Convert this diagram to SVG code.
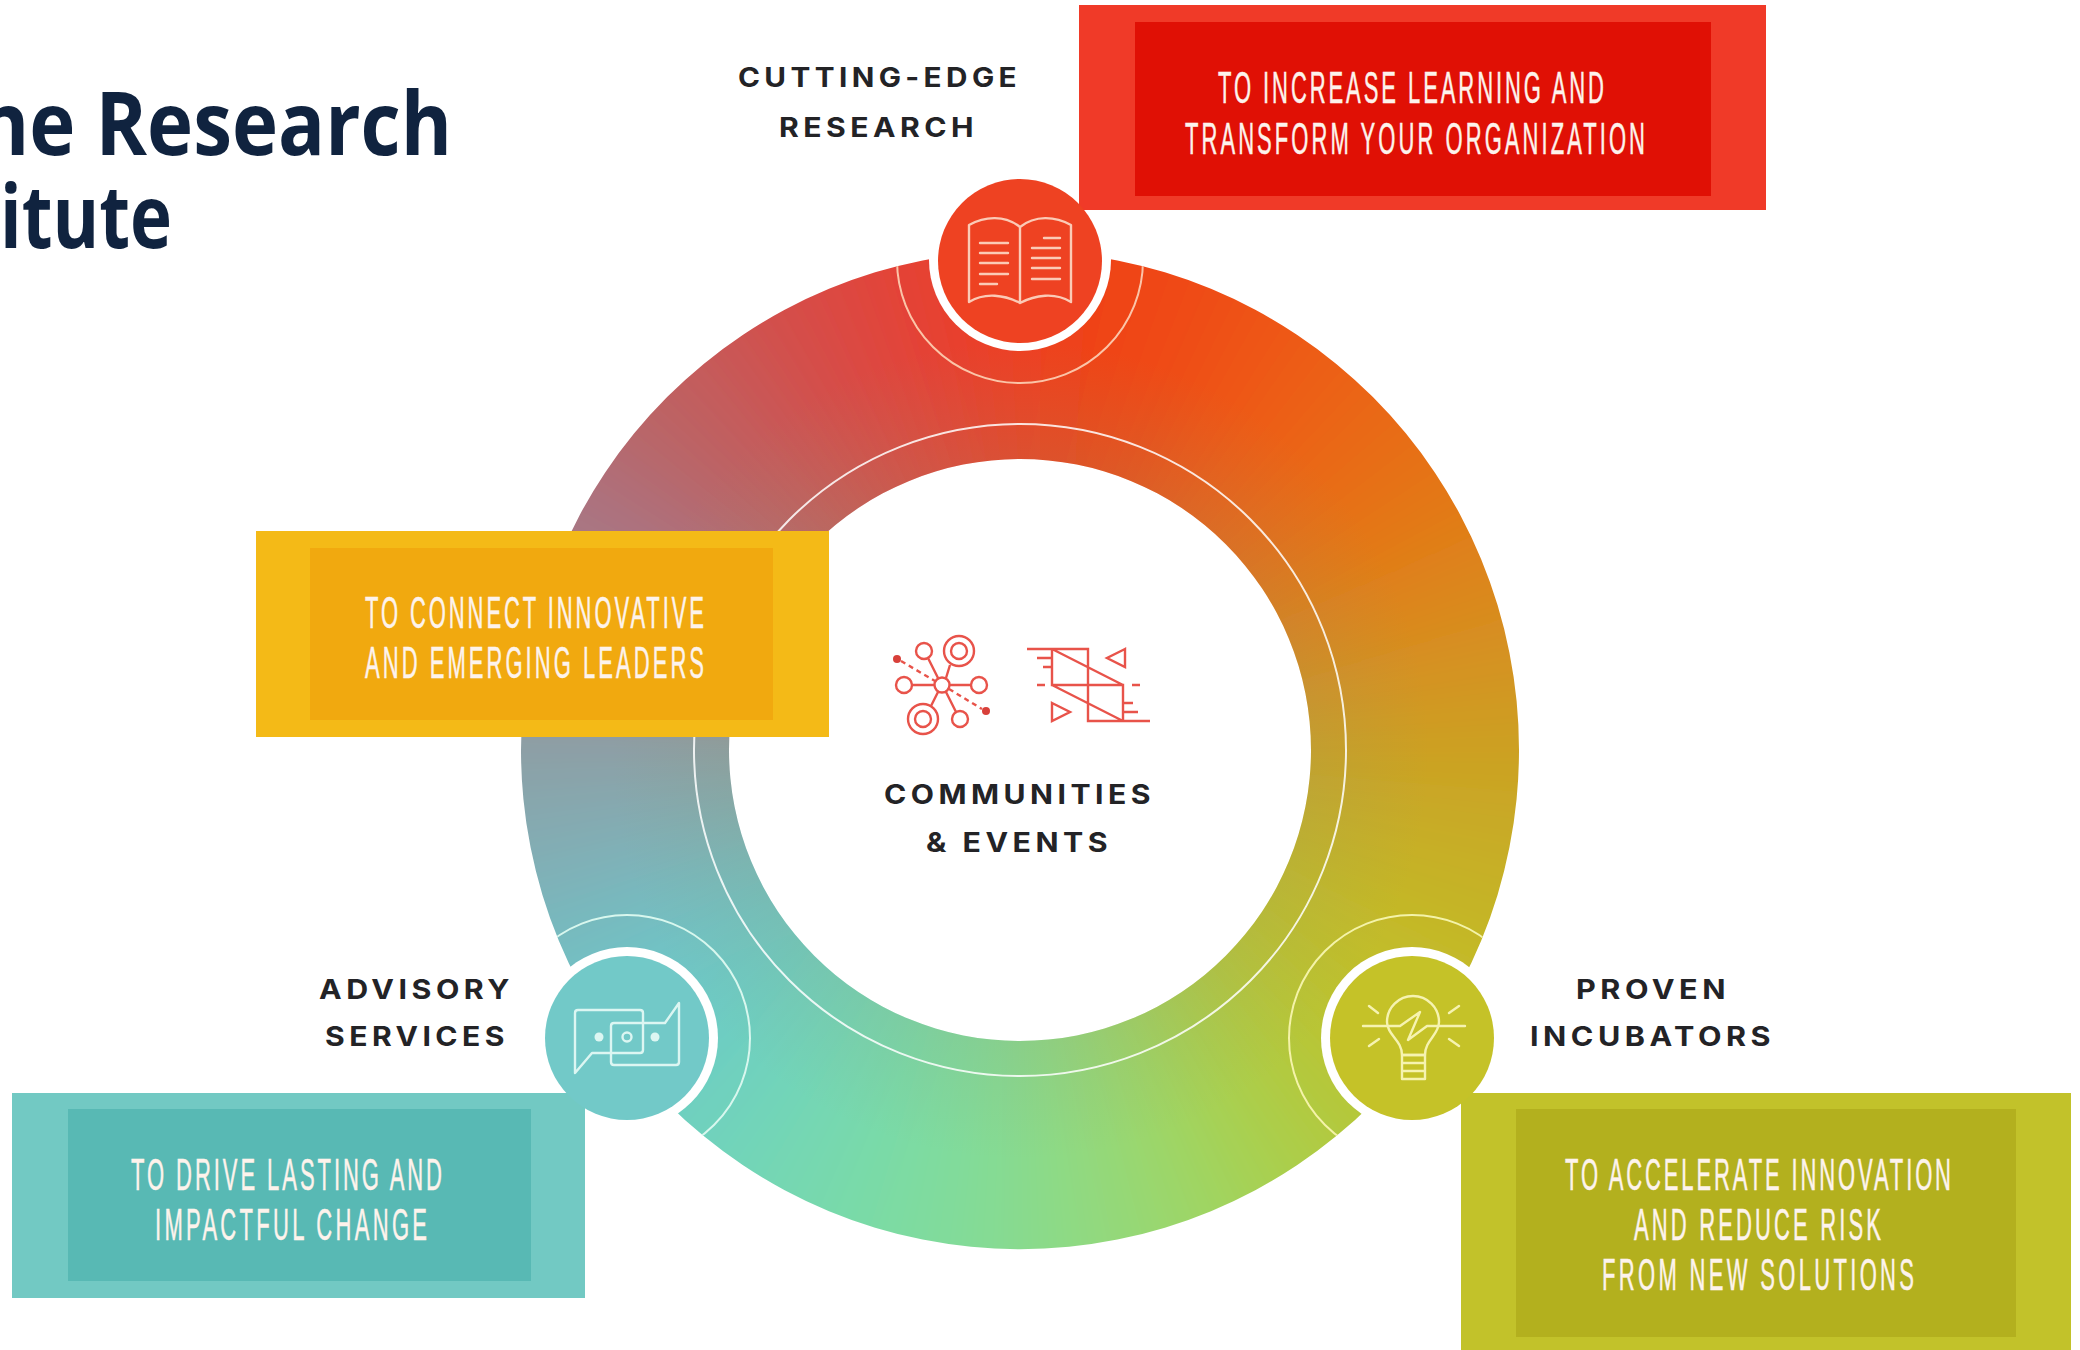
<svg xmlns="http://www.w3.org/2000/svg" xmlns:xlink="http://www.w3.org/1999/xlink" width="2080" height="1350" viewBox="0 0 2080 1350">
<style>
.title{font-family:"Open Sans","Noto Sans",sans-serif;font-weight:700;font-size:88px;fill:#10233f}
.lab{font-family:Inter,"Liberation Sans",sans-serif;font-weight:700;font-size:27px;letter-spacing:4px;fill:#232326}
.box{font-family:"Liberation Sans",Arial,sans-serif;font-size:44px;fill:#fdf3ec;stroke:#fdf3ec;stroke-width:.5}
.ic{fill:none;stroke-width:2.4;stroke-linecap:round;stroke-linejoin:round}
.ci{fill:none;stroke:#e8534a;stroke-width:2.4}
.arc{fill:none;stroke-width:2}
</style>
<defs>
<path id="w" d="M1020 750L963 130L1077 130Z"/>
<clipPath id="ringclip"><path clip-rule="evenodd" d="M521 750A499 499 0 1 1 1519 750A499 499 0 1 1 521 750ZM729 750A291 291 0 1 0 1311 750A291 291 0 1 0 729 750Z"/></clipPath>
<filter id="soft" filterUnits="userSpaceOnUse" x="300" y="0" width="1440" height="1500"><feGaussianBlur stdDeviation="42"/></filter>
<radialGradient id="innerdim" gradientUnits="userSpaceOnUse" cx="1020" cy="750" r="499">
<stop offset=".58" stop-color="#8f9a70" stop-opacity=".18"/>
<stop offset=".82" stop-color="#8f9a70" stop-opacity="0"/>
</radialGradient>
</defs>
<rect width="2080" height="1350" fill="#fff"/>
<g id="title">
<text class="title" x="-22" y="155" textLength="474" lengthAdjust="spacingAndGlyphs">ne Research</text>
<text class="title" x="0" y="248" textLength="172" lengthAdjust="spacingAndGlyphs">itute</text>
</g>
<g id="ring">
<g clip-path="url(#ringclip)">
<g filter="url(#soft)">
<use href="#w" fill="#ee3f20"/>
<use href="#w" transform="rotate(10 1020 750)" fill="#ef4219"/>
<use href="#w" transform="rotate(20 1020 750)" fill="#ef4a17"/>
<use href="#w" transform="rotate(30 1020 750)" fill="#ee5515"/>
<use href="#w" transform="rotate(40 1020 750)" fill="#ec6014"/>
<use href="#w" transform="rotate(50 1020 750)" fill="#e86c14"/>
<use href="#w" transform="rotate(60 1020 750)" fill="#e37818"/>
<use href="#w" transform="rotate(70 1020 750)" fill="#dc861c"/>
<use href="#w" transform="rotate(80 1020 750)" fill="#d49320"/>
<use href="#w" transform="rotate(90 1020 750)" fill="#cca022"/>
<use href="#w" transform="rotate(100 1020 750)" fill="#c8ab25"/>
<use href="#w" transform="rotate(110 1020 750)" fill="#c5b528"/>
<use href="#w" transform="rotate(120 1020 750)" fill="#c2bd2a"/>
<use href="#w" transform="rotate(130 1020 750)" fill="#bcc32e"/>
<use href="#w" transform="rotate(140 1020 750)" fill="#b3c93c"/>
<use href="#w" transform="rotate(150 1020 750)" fill="#a8d050"/>
<use href="#w" transform="rotate(160 1020 750)" fill="#9dd666"/>
<use href="#w" transform="rotate(170 1020 750)" fill="#93d97c"/>
<use href="#w" transform="rotate(180 1020 750)" fill="#88da8e"/>
<use href="#w" transform="rotate(190 1020 750)" fill="#80db9c"/>
<use href="#w" transform="rotate(200 1020 750)" fill="#79daa8"/>
<use href="#w" transform="rotate(210 1020 750)" fill="#74d7b4"/>
<use href="#w" transform="rotate(220 1020 750)" fill="#6fd2bd"/>
<use href="#w" transform="rotate(230 1020 750)" fill="#6dcbc5"/>
<use href="#w" transform="rotate(240 1020 750)" fill="#6fc4c6"/>
<use href="#w" transform="rotate(250 1020 750)" fill="#78b8bd"/>
<use href="#w" transform="rotate(260 1020 750)" fill="#84abb2"/>
<use href="#w" transform="rotate(270 1020 750)" fill="#8ca0a6"/>
<use href="#w" transform="rotate(280 1020 750)" fill="#97909a"/>
<use href="#w" transform="rotate(290 1020 750)" fill="#a27f8a"/>
<use href="#w" transform="rotate(300 1020 750)" fill="#ac7280"/>
<use href="#w" transform="rotate(310 1020 750)" fill="#b86668"/>
<use href="#w" transform="rotate(320 1020 750)" fill="#c45c5c"/>
<use href="#w" transform="rotate(330 1020 750)" fill="#d2504c"/>
<use href="#w" transform="rotate(340 1020 750)" fill="#de4640"/>
<use href="#w" transform="rotate(350 1020 750)" fill="#e7412e"/>
</g>
<circle cx="1020" cy="750" r="499" fill="url(#innerdim)"/>
<circle class="arc" cx="1020" cy="750" r="326" stroke="#fff" stroke-opacity=".85"/>
<circle class="arc" cx="1020" cy="260" r="123" stroke="#fbc4a8"/>
<circle class="arc" cx="627" cy="1038" r="123" stroke="#d8f7ee"/>
<circle class="arc" cx="1412" cy="1038" r="123" stroke="#f4f3a8"/>
</g>
<circle cx="1020" cy="260" r="91" fill="#fff"/>
<circle cx="627" cy="1038" r="91" fill="#fff"/>
<circle cx="1412" cy="1038" r="91" fill="#fff"/>
</g>
<g id="box-learning">
<rect x="1079" y="5" width="687" height="205" fill="#f03a28"/>
<rect x="1135" y="22" width="576" height="174" fill="#e01005"/>
<text class="box" transform="translate(1218 103) scale(.5 1)" textLength="772">TO INCREASE LEARNING AND</text>
<text class="box" transform="translate(1185 154) scale(.5 1)" textLength="920">TRANSFORM YOUR ORGANIZATION</text>
</g>
<g id="box-leaders">
<rect x="256" y="531" width="573" height="206" fill="#f4ba17"/>
<rect x="310" y="548" width="463" height="172" fill="#f1a90f"/>
<text class="box" transform="translate(365 628) scale(.5 1)" textLength="678">TO CONNECT INNOVATIVE</text>
<text class="box" transform="translate(365 678) scale(.5 1)" textLength="678">AND EMERGING LEADERS</text>
</g>
<g id="box-change">
<rect x="12" y="1093" width="573" height="205" fill="#72c9c3"/>
<rect x="68" y="1109" width="463" height="172" fill="#58b9b4"/>
<text class="box" transform="translate(131 1190) scale(.5 1)" textLength="622">TO DRIVE LASTING AND</text>
<text class="box" transform="translate(155 1240) scale(.5 1)" textLength="544">IMPACTFUL CHANGE</text>
</g>
<g id="box-innovation">
<rect x="1461" y="1093" width="610" height="257" fill="#c2c22a"/>
<rect x="1516" y="1109" width="500" height="228" fill="#b3b01e"/>
<text class="box" transform="translate(1565 1190) scale(.5 1)" textLength="772">TO ACCELERATE INNOVATION</text>
<text class="box" transform="translate(1634 1240) scale(.5 1)" textLength="494">AND REDUCE RISK</text>
<text class="box" transform="translate(1602 1290) scale(.5 1)" textLength="624">FROM NEW SOLUTIONS</text>
</g>
<g id="node-research">
<circle cx="1020" cy="261" r="82" fill="#ee4222"/>
<g class="ic" stroke="#fbcab6">
<path d="M1020 227C1005 215 985 216 969 225V302C985 292 1005 295 1020 303C1035 295 1055 292 1071 302V225C1055 216 1035 215 1020 227V303"/>
<path d="M980 243H1008M980 253H1008M980 263H1008M980 274H1008M980 284H997M1044 238H1060M1032 248H1060M1032 258H1060M1032 268H1060M1032 279H1060"/>
</g>
<text class="lab" x="738" y="87" textLength="283" lengthAdjust="spacingAndGlyphs">CUTTING-EDGE</text>
<text class="lab" x="779" y="137" textLength="199" lengthAdjust="spacingAndGlyphs">RESEARCH</text>
</g>
<g id="node-advisory">
<circle cx="627" cy="1038" r="82" fill="#72c9c8"/>
<g class="ic" stroke="#dcf6f2">
<path d="M578 1010H640Q643 1010 643 1013V1050Q643 1053 640 1053H592L575 1073V1013Q575 1010 578 1010Z"/>
<path d="M611 1026Q611 1023 614 1023H665L679 1003V1062Q679 1065 676 1065H614Q611 1065 611 1062Z"/>
<circle cx="627" cy="1037" r="4.5"/>
</g>
<circle cx="599" cy="1037" r="4.5" fill="#dcf6f2"/>
<circle cx="655" cy="1037" r="4.5" fill="#dcf6f2"/>
<text class="lab" x="319" y="999" textLength="195" lengthAdjust="spacingAndGlyphs">ADVISORY</text>
<text class="lab" x="325" y="1046" textLength="184" lengthAdjust="spacingAndGlyphs">SERVICES</text>
</g>
<g id="node-incubators">
<circle cx="1412" cy="1038" r="82" fill="#c5c228"/>
<g class="ic" stroke="#f6f3b0">
<path d="M1402 1055C1402 1040 1387 1035 1387 1022A26 26 0 1 1 1439 1022C1439 1035 1425 1040 1425 1055Z"/>
<path d="M1402 1055H1425V1079H1402ZM1402 1063H1425M1402 1071H1425"/>
<path d="M1363 1026H1400L1420 1012L1408 1040L1427 1026H1465"/>
<path d="M1369 1006L1378 1013M1459 1006L1449 1013M1369 1046L1379 1039M1459 1046L1449 1039"/>
</g>
<text class="lab" x="1576" y="999" textLength="154" lengthAdjust="spacingAndGlyphs">PROVEN</text>
<text class="lab" x="1530" y="1046" textLength="245" lengthAdjust="spacingAndGlyphs">INCUBATORS</text>
</g>
<g id="node-communities">
<g class="ci">
<circle cx="942" cy="685" r="7.5"/>
<circle cx="904" cy="685" r="8"/><circle cx="979" cy="685" r="8"/>
<circle cx="924" cy="651" r="8"/><circle cx="960" cy="719" r="8"/>
<circle cx="959" cy="651" r="15"/><circle cx="959" cy="651" r="8"/>
<circle cx="923" cy="719" r="15"/><circle cx="923" cy="719" r="8"/>
<path d="M912 685H934M950 685H971M928 658L938 678M946 692L956 712M950 665L946 678M938 692L931 706"/>
<path stroke-dasharray="5 4" d="M901 661L935 681M949 689L982 709"/>
</g>
<circle cx="897" cy="659" r="4" fill="#d8403a"/>
<circle cx="986" cy="711" r="4" fill="#d8403a"/>
<g class="ci">
<path d="M1027 649H1088V721H1150M1052 649V685H1123V721H1088M1052 649L1123 685M1052 685L1123 721"/>
<path d="M1037 685H1045M1132 685H1140M1037 658H1052M1043 667H1052M1123 703H1133M1123 712H1138"/>
<path d="M1125 649L1107 658L1125 667ZM1052 703L1070 712L1052 721Z"/>
</g>
<text class="lab" x="884" y="804" textLength="271" lengthAdjust="spacingAndGlyphs">COMMUNITIES</text>
<text class="lab" x="926" y="852" textLength="186" lengthAdjust="spacingAndGlyphs">&amp; EVENTS</text>
</g>
</svg>
